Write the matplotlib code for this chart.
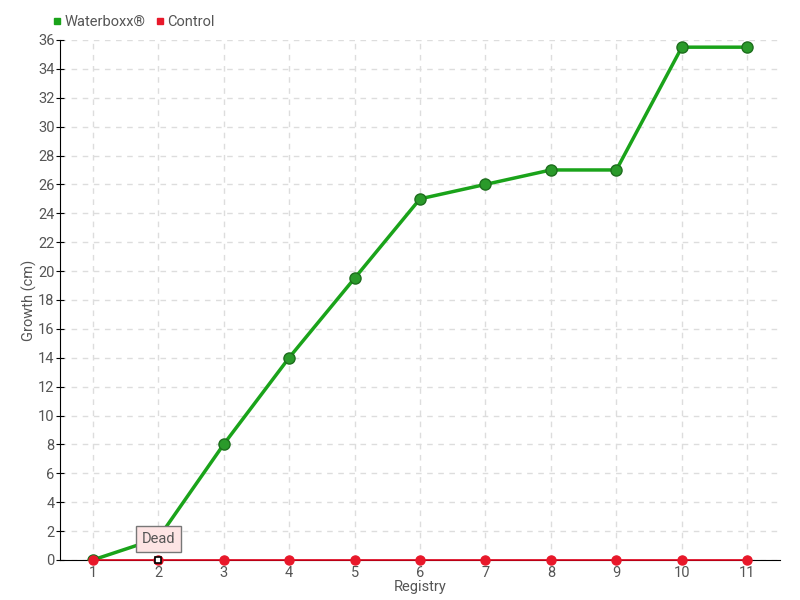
import matplotlib
matplotlib.use("Agg")
import matplotlib.pyplot as plt
from matplotlib.lines import Line2D

registry = [1, 2, 3, 4, 5, 6, 7, 8, 9, 10, 11]
waterboxx = [0, 1.5, 8, 14, 19.5, 25, 26, 27, 27, 35.5, 35.5]
control = [0, 0, 0, 0, 0, 0, 0, 0, 0, 0, 0]
yticks = list(range(0, 37, 2))

plt.rcParams['font.family'] = ['Roboto', 'DejaVu Sans']
txt = '#555555'
fs = 10.5

fig = plt.figure(figsize=(8, 6), dpi=100)
ax = fig.add_axes([0.075, 0.0667, 0.9, 0.8667])

ax.plot(registry, waterboxx, color='#1aa31a', lw=2.5, marker='o', ms=8,
        mfc='#2a9a2a', mec='#1d6e1d', mew=1, zorder=3)
ax.plot(registry, control, color='#e0001a', lw=1.2, marker='o', ms=6.5,
        mfc='#e8182a', mec='#e8182a', zorder=4, clip_on=False)
ax.plot([2], [0], marker='s', ms=5, mfc='white', mec='black', mew=1.2, zorder=6, clip_on=False)

ax.set_xlim(0.5, 11.5)
ax.set_ylim(0, 36)
ax.set_xticks(registry)
ax.set_yticks(yticks)
ax.grid(True, color='#dddddd', ls=(0, (4, 4)), lw=1)
ax.set_axisbelow(True)
for s in ['top', 'right']:
    ax.spines[s].set_visible(False)
ax.spines['left'].set_color('black')
ax.spines['bottom'].set_color('black')
ax.tick_params(axis='y', direction='inout', length=6, colors='black', labelcolor=txt,
               labelsize=fs, pad=1)
ax.tick_params(axis='x', length=0, labelcolor=txt, labelsize=fs, pad=4)
ax.set_xlabel('Registry', color=txt, fontsize=fs, labelpad=0)
ax.set_ylabel('Growth (cm)', color=txt, fontsize=fs, labelpad=1)

ax.annotate('Dead', xy=(2, 0), xytext=(2, 1.45), ha='center', va='center',
            color=txt, fontsize=fs, zorder=7,
            bbox=dict(boxstyle='square,pad=0.4', fc='#fde4e4', ec='#777777', lw=1))

handles = [Line2D([], [], ls='none', marker='s', ms=5, color='#1aa31a', label='Waterboxx®'),
           Line2D([], [], ls='none', marker='s', ms=5, color='#e8182a', label='Control')]
leg = fig.legend(handles=handles, loc='upper left', bbox_to_anchor=(0.048, 0.997), ncol=2,
                 frameon=False, fontsize=fs, handletextpad=0.1, columnspacing=0.6, handlelength=0.8)
for t in leg.get_texts():
    t.set_color(txt)

fig.savefig('out.png', dpi=100)
